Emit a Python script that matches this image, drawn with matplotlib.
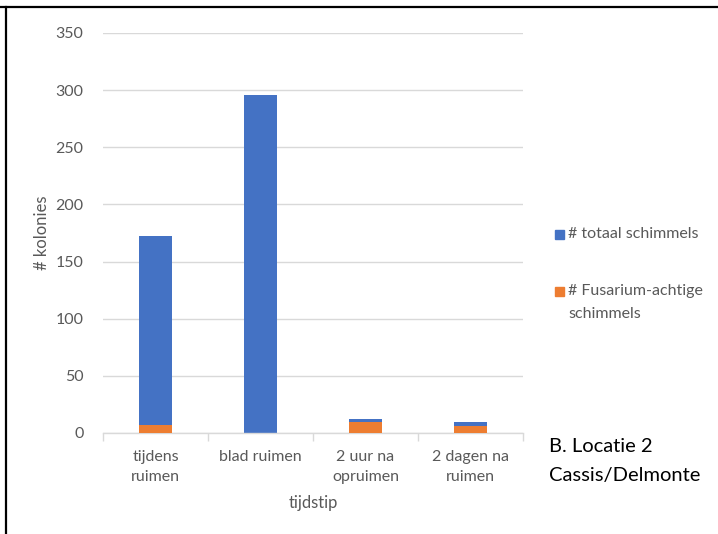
import matplotlib
matplotlib.use("Agg")
import matplotlib.pyplot as plt
from matplotlib.lines import Line2D

categories = ["tijdens\nruimen", "blad ruimen", "2 uur na\nopruimen", "2 dagen na\nruimen"]
totaal = [172, 296, 12, 10]
fusarium = [7, 0, 10, 6]
series_labels = ["# totaal schimmels", "# Fusarium-achtige\nschimmels"]
yticks = [0, 50, 100, 150, 200, 250, 300, 350]

BLUE = "#4472C4"
ORANGE = "#ED7D31"
GREY_TEXT = "#595959"
GRID = "#D9D9D9"

plt.rcParams["font.family"] = ["Lato", "DejaVu Sans"]

W, H = 718, 534
fig = plt.figure(figsize=(W / 100, H / 100), dpi=100)
ax = fig.add_axes([103 / W, 101 / H, 420 / W, 400 / H])

x = list(range(len(categories)))
bar_w = 0.31
ax.bar(x, totaal, width=bar_w, color=BLUE, zorder=2)
ax.bar(x, fusarium, width=bar_w, color=ORANGE, zorder=3)

ax.set_xlim(-0.5, len(categories) - 0.5)
ax.set_ylim(0, 350)
ax.set_yticks(yticks)
ax.set_yticklabels([str(v) for v in yticks], color=GREY_TEXT, fontsize=11.5)
ax.tick_params(axis="y", length=0, pad=14)

ax.set_xticks(x)
ax.set_xticklabels(categories, color=GREY_TEXT, fontsize=11.5, linespacing=1.6)
ax.set_xticks([i + 0.5 for i in [-1] + x], minor=True)
ax.tick_params(axis="x", which="major", length=0, pad=12)
ax.tick_params(axis="x", which="minor", length=6, color=GRID, width=1)

ax.yaxis.grid(True, color=GRID, linewidth=1, zorder=0)
ax.set_axisbelow(True)
for side in ["top", "right", "left"]:
    ax.spines[side].set_visible(False)
ax.spines["bottom"].set_color(GRID)
ax.spines["bottom"].set_linewidth(1)

ax.set_ylabel("# kolonies", color=GREY_TEXT, fontsize=12)
ax.yaxis.set_label_coords(-0.125, 0.5)
ax.set_xlabel("tijdstip", color=GREY_TEXT, fontsize=12)
ax.xaxis.set_label_coords(0.5, -0.155)

# legend entries placed to the right of the plot area
for lab, col, yc in zip(series_labels, [BLUE, ORANGE], [234, 291]):
    fig.add_artist(plt.Rectangle((555 / W, 1 - (yc + 5) / H), 9 / W, 9 / H,
                                 color=col, transform=fig.transFigure))
    for j, line in enumerate(lab.split("\n")):
        fig.text(568 / W, 1 - (yc + 23 * j) / H, line, color=GREY_TEXT,
                 fontsize=11.5, va="center", ha="left")

fig.text(549 / W, 1 - 446 / H, "B. Locatie 2", color="black",
         fontsize=14.5, va="center", ha="left")
fig.text(549 / W, 1 - 476 / H, "Cassis/Delmonte", color="black",
         fontsize=14.5, va="center", ha="left")

# frame lines along the top and left edges
fig.add_artist(Line2D([0, 1], [1 - 6.5 / H, 1 - 6.5 / H], color="black", linewidth=1.6,
                      transform=fig.transFigure))
fig.add_artist(Line2D([5.5 / W, 5.5 / W], [0, 1 - 6.5 / H], color="black", linewidth=1.6,
                      transform=fig.transFigure))

fig.savefig("out.png", dpi=100, facecolor="white")
